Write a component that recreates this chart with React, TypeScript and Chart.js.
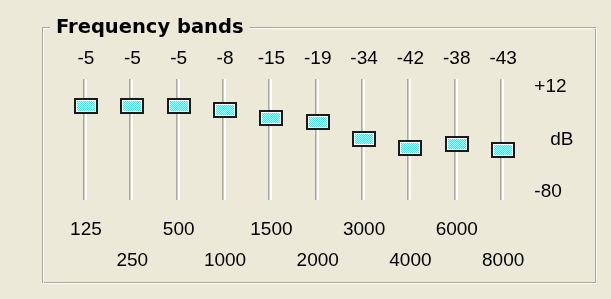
import { useEffect, useRef } from 'react';
import { Chart, registerables } from 'chart.js';

Chart.register(...registerables);

// ---- data ----
const bands = ['125', '250', '500', '1000', '1500', '2000', '3000', '4000', '6000', '8000'];
const gains = [-5, -5, -5, -8, -15, -19, -34, -42, -38, -43];
const gainMin = -80;
const gainMax = 12;
const scaleTickValues = [12, -34, -80];
const scaleTickLabels = ['+12', '   dB', '-80'];
const groupTitle = 'Frequency bands';

const BG = '#ECE9D8';
const NUM_FONT = { family: '"Liberation Sans", Arial, sans-serif', size: 19 };

function makeThumb(): HTMLCanvasElement {
  const c = document.createElement('canvas');
  c.width = 24;
  c.height = 16;
  const g = c.getContext('2d')!;
  g.fillStyle = '#1a1a1a';
  g.fillRect(0, 0, 24, 16);
  g.fillStyle = '#ffffff';
  g.fillRect(2, 2, 20, 12);
  for (let y = 3; y < 13; y++) {
    for (let x = 3; x < 21; x++) {
      g.fillStyle = (x + y) % 2 ? '#b4ffff' : '#30f0f0';
      g.fillRect(x, y, 1, 1);
    }
  }
  return c;
}

const framePlugin = {
  id: 'groupFrame',
  beforeDraw(chart: any) {
    const { ctx, width, height } = chart;
    ctx.save();
    ctx.fillStyle = BG;
    ctx.fillRect(0, 0, width, height);
    const L = 42, T = 27, R = 595, B = 282;
    ctx.lineWidth = 1;
    ctx.strokeStyle = '#ACA899';
    ctx.strokeRect(L + 0.5, T + 0.5, R - L, B - T);
    ctx.strokeStyle = '#FFFFFF';
    ctx.strokeRect(L + 1.5, T + 1.5, R - L, B - T);
    ctx.font = 'bold 19.5px "DejaVu Sans", sans-serif';
    const w = ctx.measureText(groupTitle).width;
    ctx.fillStyle = BG;
    ctx.fillRect(50, T - 2, w + 12, 6);
    ctx.fillStyle = '#000000';
    ctx.textBaseline = 'alphabetic';
    ctx.textAlign = 'left';
    ctx.fillText(groupTitle, 56, 33);
    ctx.restore();
  },
  beforeDatasetsDraw(chart: any) {
    const { ctx } = chart;
    const xs = chart.scales.x;
    const ys = chart.scales.y;
    const top = Math.round(ys.getPixelForValue(gainMax)) - 8;
    const bot = Math.round(ys.getPixelForValue(gainMin)) + 8;
    bands.forEach((_, i) => {
      const cx = Math.round(xs.getPixelForValue(i));
      ctx.fillStyle = '#ACA899';
      ctx.fillRect(cx - 3, top, 1, bot - top);
      ctx.fillStyle = '#CFCCBD';
      ctx.fillRect(cx - 2, top, 1, bot - top);
      ctx.fillStyle = '#FFFFFF';
      ctx.fillRect(cx - 1, top, 2, bot - top);
    });
    ctx.imageSmoothingEnabled = false;
  },
};

export default function App() {
  const ref = useRef<HTMLCanvasElement | null>(null);

  useEffect(() => {
    if (!ref.current) return;
    const thumb = makeThumb();
    const chart = new Chart(ref.current, {
      type: 'line',
      data: {
        labels: bands,
        datasets: [
          {
            data: gains,
            xAxisID: 'x',
            yAxisID: 'y',
            showLine: false,
            pointStyle: thumb as any,
            pointRadius: 12,
            pointHoverRadius: 12,
            clip: false as any,
          },
        ],
      },
      plugins: [framePlugin],
      options: {
        animation: false,
        responsive: false,
        events: [],
        layout: { padding: { left: 62.8, top: 46.6, right: 0, bottom: 17 } },
        plugins: { legend: { display: false }, tooltip: { enabled: false }, title: { display: false } },
        scales: {
          x: {
            type: 'category',
            position: 'bottom',
            offset: true,
            grid: { display: false, drawTicks: false },
            border: { display: false },
            ticks: {
              autoSkip: false,
              maxRotation: 0,
              minRotation: 0,
              padding: 23,
              color: '#000000',
              font: { ...NUM_FONT, lineHeight: 1.6 },
              callback: (_v: any, i: number) => (i % 2 === 0 ? [bands[i], ''] : ['', bands[i]]),
            },
            afterFit: (s: any) => {
              s.height = 90;
            },
          },
          xTop: {
            type: 'category',
            position: 'top',
            labels: bands,
            offset: true,
            grid: { display: false, drawTicks: false },
            border: { display: false },
            ticks: {
              autoSkip: false,
              maxRotation: 0,
              minRotation: 0,
              padding: 18,
              color: '#000000',
              font: { ...NUM_FONT, lineHeight: 1 },
              callback: (_v: any, i: number) => String(gains[i]),
            },
            afterFit: (s: any) => {
              s.height = 40;
            },
          },
          y: {
            type: 'linear',
            position: 'right',
            min: gainMin,
            max: gainMax,
            grid: { display: false, drawTicks: false },
            border: { display: false },
            afterBuildTicks: (s: any) => {
              s.ticks = scaleTickValues.map((v) => ({ value: v }));
            },
            ticks: {
              padding: 8,
              crossAlign: 'near',
              color: '#000000',
              font: { ...NUM_FONT, lineHeight: 1 },
              callback: (v: any) => {
                const k = scaleTickValues.indexOf(Number(v));
                return k >= 0 ? scaleTickLabels[k] : '';
              },
            },
            afterFit: (s: any) => {
              s.width = 84.7;
            },
          },
        },
      },
    });
    return () => chart.destroy();
  }, []);

  return (
    <div style={{ position: 'fixed', left: 0, top: 0, width: 611, height: 299, background: BG }}>
      <canvas ref={ref} width={611} height={299} style={{ display: 'block' }} />
    </div>
  );
}
